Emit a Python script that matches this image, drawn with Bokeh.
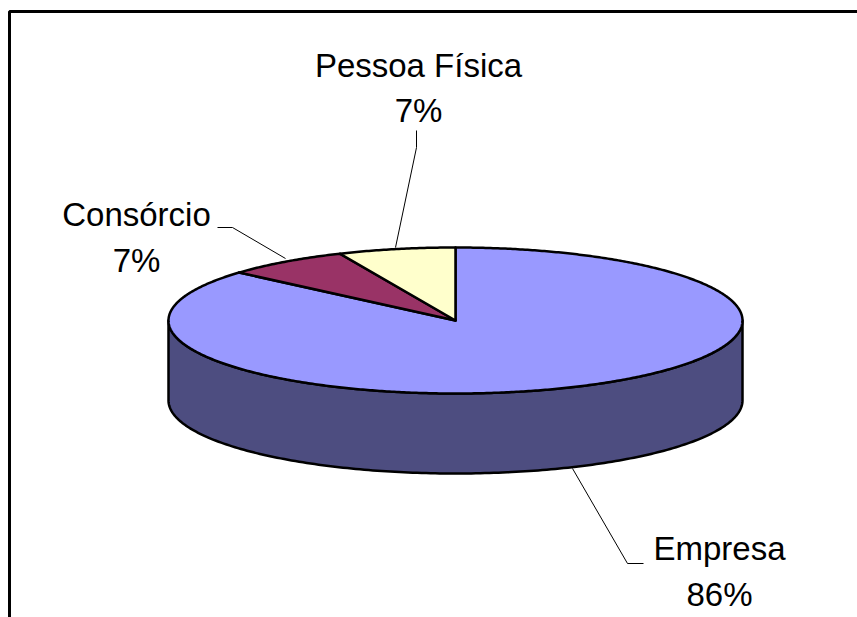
import numpy as np
from bokeh.plotting import figure
from bokeh.models import Range1d
from bokeh.core.properties import value
from bokeh.embed import file_html
from bokeh.resources import INLINE

# ---- data ----
categories = ["Empresa", "Consórcio", "Pessoa Física"]
values = [86.4, 7.0, 6.6]
colors = ["#9999FF", "#993366", "#FFFFCC"]
side_colors = ["#4D4D80", "#4D1A33", "#80806A"]

# ---- layout (page pixel coordinates) ----
W, H = 857, 617
p = figure(width=W, height=H, output_backend="svg", toolbar_location=None,
           x_range=Range1d(0, W), y_range=Range1d(H, 0),
           x_axis_type=None, y_axis_type=None, min_border=0,
           outline_line_color=None, background_fill_color="white",
           border_fill_color="white")
p.grid.visible = False

cx, cy, rx, ry, depth = 455.0, 320.0, 287.0, 73.0, 80.0

def pt(t, dy=0.0):
    return cx + rx * np.cos(t), cy - ry * np.sin(t) + dy

total = float(sum(values))
angles = []
start = 90.0
for v in values:
    end = start - 360.0 * v / total
    angles.append((start, end))
    start = end

# side walls (front half only: angles in [180, 360] mod 360)
side_xs, side_ys, side_fill = [], [], []
for (a0, a1), sc in zip(angles, side_colors):
    lo, hi = min(a0, a1), max(a0, a1)
    for k in range(-2, 2):
        f0, f1 = 180 + 360 * k, 360 + 360 * k
        s, e = max(lo, f0), min(hi, f1)
        if e > s:
            t = np.radians(np.linspace(s, e, 200))
            xt, yt = pt(t)
            xb, yb = pt(t[::-1], depth)
            side_xs.append(list(np.concatenate([xt, xb])))
            side_ys.append(list(np.concatenate([yt, yb])))
            side_fill.append(sc)
p.patches(xs=side_xs, ys=side_ys, fill_color=side_fill, line_color="black",
          line_width=2.5, line_join="round")

# top slices
top_xs, top_ys = [], []
for (a0, a1) in angles:
    n = max(10, int(abs(a0 - a1) * 2))
    t = np.radians(np.linspace(a0, a1, n))
    xa, ya = pt(t)
    top_xs.append([cx] + list(xa) + [cx])
    top_ys.append([cy] + list(ya) + [cy])
p.patches(xs=top_xs, ys=top_ys, fill_color=colors, line_color="black",
          line_width=2.5, line_join="round")

# leader lines
p.multi_line(xs=[[572, 627, 643], [217, 232, 285], [416, 416, 395]],
             ys=[[468, 563, 563], [227, 227, 258], [130, 147, 247]],
             line_color="black", line_width=1)

# labels
lab_x = [719, 136, 418]
name_y = [548, 214, 65]
pct_y = [594, 260, 110]
pcts = [f"{round(v / total * 100)}%" for v in values]
p.text(x=lab_x, y=name_y, text=categories, text_font=value("Liberation Sans"),
       text_font_size="33px", text_align="center", text_baseline="alphabetic",
       text_color="black")
p.text(x=lab_x, y=pct_y, text=pcts, text_font=value("Liberation Sans"),
       text_font_size="33px", text_align="center", text_baseline="alphabetic",
       text_color="black")

# chart frame
p.line(x=[9, 9, 870], y=[630, 11, 11], line_color="black", line_width=3)

open("out.html", "w").write(file_html(p, INLINE))
